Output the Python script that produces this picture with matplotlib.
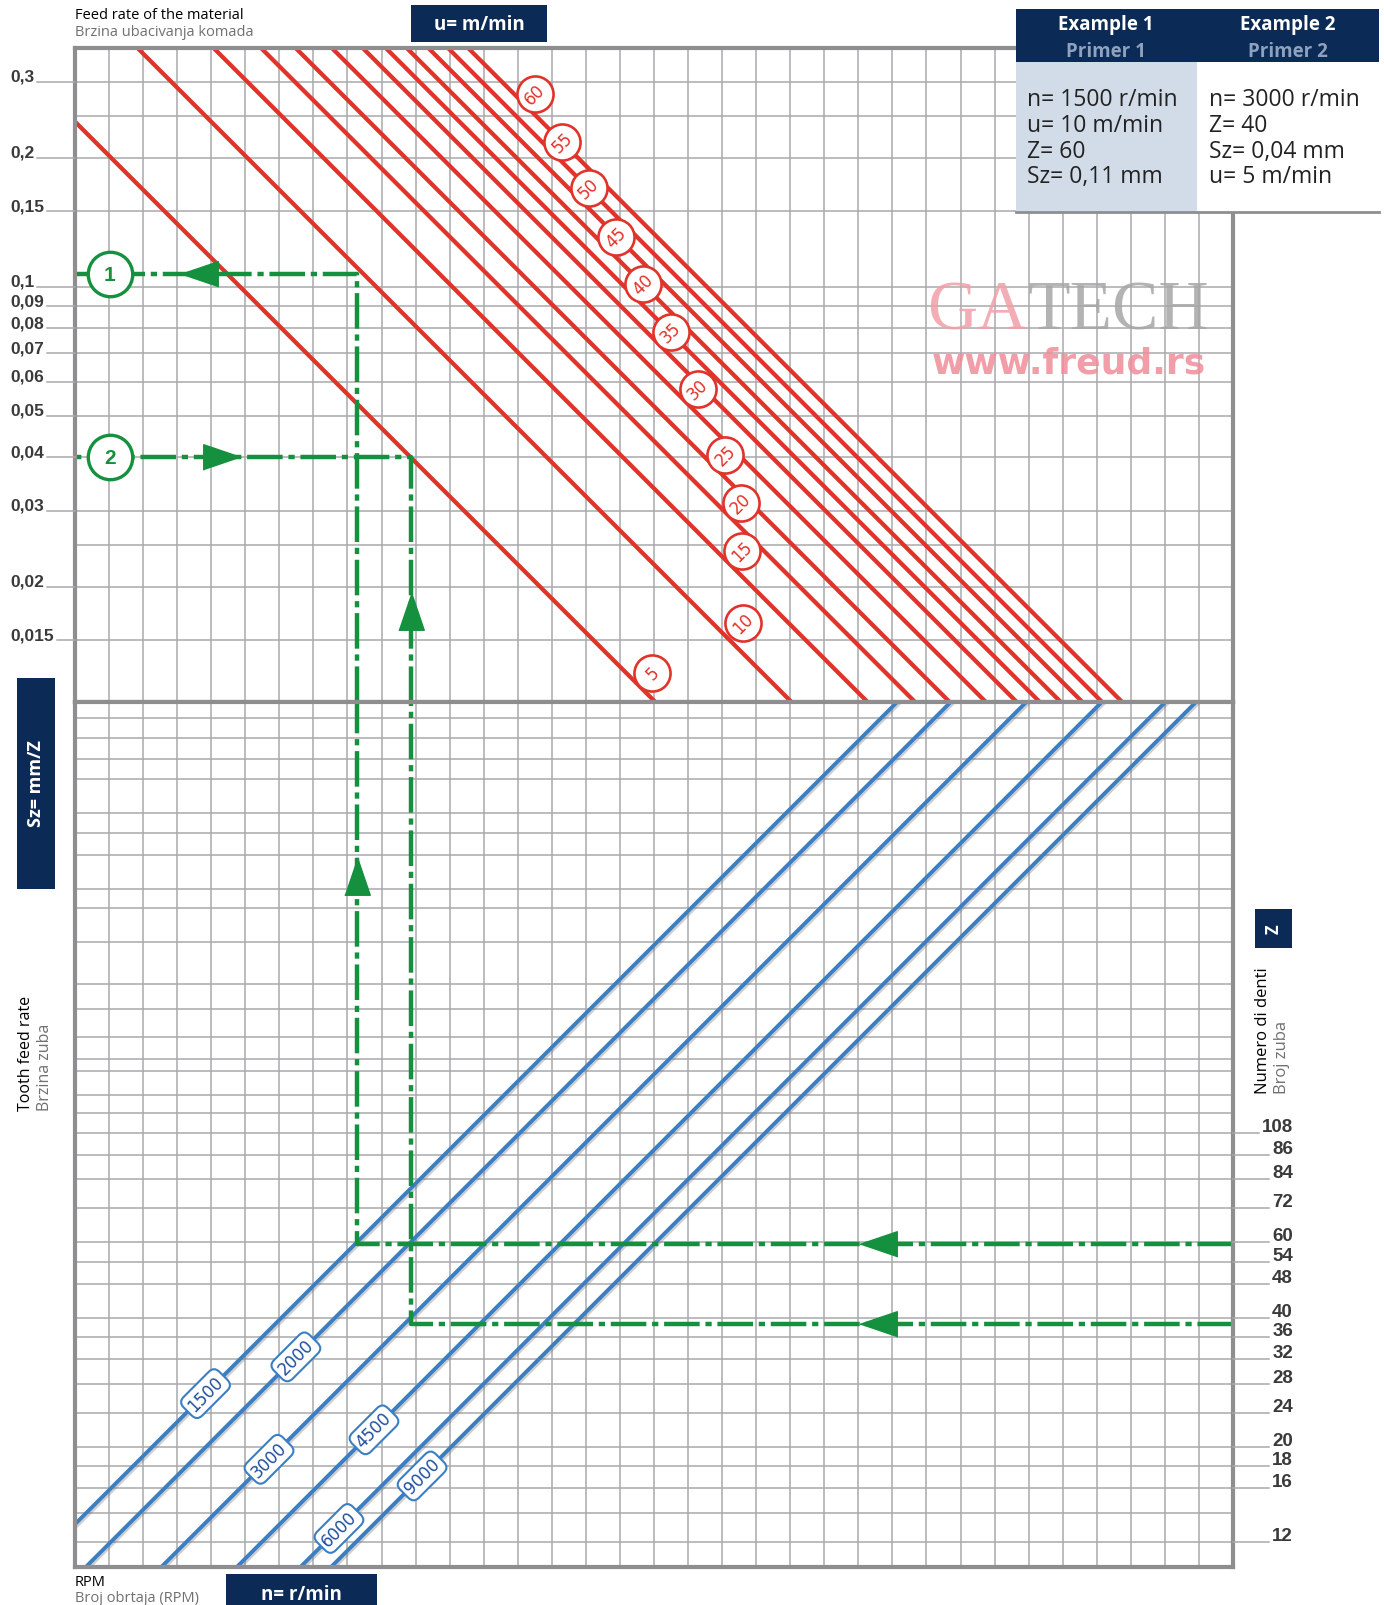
import numpy as np
import matplotlib
matplotlib.use("Agg")
import matplotlib.pyplot as plt
import matplotlib.patheffects as pe
from matplotlib import transforms
from matplotlib.patches import Rectangle
from matplotlib.lines import Line2D

W, H = 1384, 1606
NAVY = '#0b2a55'
RED = '#e2332a'
BLUE = '#3b7ec2'
GREEN = '#14903e'
GRID = '#aaaaad'
FRAME = '#8e8e91'

# tooth feed Sz (mm/Z), upper panel
sz_ticks = [0.3, 0.2, 0.15, 0.1, 0.09, 0.08, 0.07, 0.06, 0.05, 0.04, 0.03, 0.02, 0.015]
sz_tick_labels = ['0,3', '0,2', '0,15', '0,1', '0,09', '0,08', '0,07', '0,06',
                  '0,05', '0,04', '0,03', '0,02', '0,015']
sz_grid = [0.3, 0.25, 0.2, 0.15, 0.1, 0.09, 0.08, 0.07, 0.06, 0.05, 0.04, 0.03, 0.025, 0.02, 0.015]

# number of teeth Z, lower panel
z_ticks = [108, 96, 84, 72, 60, 54, 48, 40, 36, 32, 28, 24, 20, 18, 16, 12]
z_tick_labels = ['108', '86', '84', '72', '60', '54', '48', '40', '36', '32',
                 '28', '24', '20', '18', '16', '12']
z_grid = [1000, 900, 800, 720, 600, 540, 480, 400, 360, 300, 240, 210, 180, 160, 150, 132, 120,
          108, 96, 84, 72, 60, 54, 48, 40, 36, 32, 28, 24, 20, 18, 16, 14, 12]

# feed rate u (m/min): label, where the line sits on the chart
feed_rates = [5, 10, 15, 20, 25, 30, 35, 40, 45, 50, 55, 60]
feed_line_pos = [4.8, 9.97, 15.0, 19.35, 23.3, 28.3, 33.4, 37.8, 42.3, 47.5, 52.8, 58.8]
# where the round tags sit (n*Z, Sz)
feed_label_x = [439400, 713000, 709200, 704900, 649600, 559700, 485300,
                418200, 360600, 312400, 270900, 233500]
feed_label_sz = [0.01257, 0.01644, 0.0242, 0.0313, 0.0405, 0.0578, 0.0784,
                 0.1016, 0.1308, 0.1694, 0.217, 0.2813]

# spindle speed n (r/min): label, where the line sits, Z where the tag sits
rpm = [1500, 2000, 3000, 4500, 6000, 9000]
rpm_line_pos = [1500, 2000, 3000, 4500, 6330, 7460]
rpm_label_z = [26.6, 32.4, 18.7, 21.9, 12.9, 17.1]

# worked examples (as drawn)
ex_names = ['1', '2']
ex_n = [1500, 3000]
ex_z = [60, 40]
ex_z_drawn = [59.5, 38.6]
ex_sz_drawn = [0.107, 0.04]
ex_arrow_z_x = [1.474e6, 1.474e6]     # arrow on the Z line (points left)
ex_arrow_up = [('bot', 428), ('top', 0.0175)]
ex_arrow_sz_x = [38540, 43560]        # arrow on the Sz line
ex_arrow_sz_dir = ['left', 'right']

# scale limits (x = n*Z, log)
X_LO, X_HI = 19800, 9.91e6
SZ_LO, SZ_HI = 0.01076, 0.360
Z_LO, Z_HI = 10.49, 1089


def fx(px):
    return px / W


def fy(py):
    return 1 - py / H


fig = plt.figure(figsize=(W / 100, H / 100), dpi=100)
ax_top = fig.add_axes([fx(75), fy(703), fx(1233) - fx(75), fy(49) - fy(703)])
ax_bot = fig.add_axes([fx(75), fy(1568), fx(1233) - fx(75), fy(703) - fy(1568)])

for ax in (ax_top, ax_bot):
    ax.set_xscale('log')
    ax.set_yscale('log')
    ax.set_xlim(X_LO, X_HI)
    ax.set_xticks([])
    ax.set_xticks([], minor=True)
    ax.set_yticks([])
    ax.set_yticks([], minor=True)
    for s in ax.spines.values():
        s.set_color(FRAME)
        s.set_linewidth(3)
        s.set_zorder(6)
    for v in np.geomspace(X_LO, X_HI, 35)[1:-1]:
        ax.axvline(v, color=GRID, lw=1.1, zorder=1)
ax_top.set_ylim(SZ_LO, SZ_HI)
ax_bot.set_ylim(Z_LO, Z_HI)
for v in sz_grid:
    ax_top.axhline(v, color=GRID, lw=1.1, zorder=1)
for v in z_grid:
    ax_bot.axhline(v, color=GRID, lw=1.1, zorder=1)

shadow = [pe.SimpleLineShadow(offset=(1.2, -1.2), shadow_color='#777777', alpha=0.35), pe.Normal()]

# feed-rate lines: Sz = 1000 u / (n Z)
nz = np.geomspace(X_LO, X_HI, 200)
for u in feed_line_pos:
    ax_top.plot(nz, 1000 * u / nz, color=RED, lw=3.0, zorder=3, path_effects=shadow)

# speed lines: x = n Z
zz = np.geomspace(Z_LO, Z_HI, 200)
for n in rpm_line_pos:
    ax_bot.plot(n * zz, zz, color=BLUE, lw=2.8, zorder=3, path_effects=shadow)

# feed-rate tags
for u, x, s in zip(feed_rates, feed_label_x, feed_label_sz):
    ax_top.plot(x, s, marker='o', ms=26, mfc='white', mec=RED, mew=1.9, zorder=8, clip_on=False)
    ax_top.text(x, s, str(u), color=RED, fontsize=12, rotation=45, ha='center', va='center',
                rotation_mode='anchor', zorder=9, family='DejaVu Sans')

# speed tags
for n, pos, z in zip(rpm, rpm_line_pos, rpm_label_z):
    ax_bot.text(pos * z, z, str(n), color='#1f4f9c', fontsize=12, rotation=45,
                ha='center', va='center', rotation_mode='anchor', zorder=9,
                bbox=dict(boxstyle='round,pad=0.25,rounding_size=0.45', fc='white', ec=BLUE, lw=1.5))

# worked examples
gstyle = dict(color=GREEN, lw=3.2, linestyle=(0, (8, 1.3, 1.4, 1.3)), zorder=5)
arrow_left = [(-0.5, 0), (0.5, 0.34), (0.5, -0.34)]
arrow_right = [(0.5, 0), (-0.5, 0.34), (-0.5, -0.34)]
arrow_up = [(0, 0.5), (0.34, -0.5), (-0.34, -0.5)]
mark_tr = transforms.blended_transform_factory(ax_top.transAxes, ax_top.transData)
for i in range(2):
    x = ex_n[i] * ex_z[i]
    zi, si = ex_z_drawn[i], ex_sz_drawn[i]
    ax_bot.plot([X_HI, x, x], [zi, zi, Z_HI], **gstyle)
    ax_top.plot([x, x, X_LO], [SZ_LO, si, si], **gstyle)
    ax_bot.plot(ex_arrow_z_x[i], zi, marker=arrow_left, ms=27, color=GREEN, ls='none', zorder=7)
    which, val = ex_arrow_up[i]
    if which == 'bot':
        ax_bot.plot(x, val, marker=arrow_up, ms=27, color=GREEN, ls='none', zorder=7)
    else:
        ax_top.plot(x, val, marker=arrow_up, ms=27, color=GREEN, ls='none', zorder=7)
    mk = arrow_left if ex_arrow_sz_dir[i] == 'left' else arrow_right
    ax_top.plot(ex_arrow_sz_x[i], si, marker=mk, ms=27, color=GREEN, ls='none', zorder=7)
    ax_top.plot(0.0302, si, marker='o', ms=32, mfc='white', mec=GREEN, mew=2.4,
                transform=mark_tr, zorder=8, clip_on=False)
    ax_top.text(0.0302, si, ex_names[i], color=GREEN, fontsize=15, fontweight='bold',
                ha='center', va='center', transform=mark_tr, zorder=9, family='Liberation Sans')

# watermark
wm1 = fig.text(fx(927), fy(330), 'GA', color='#f2a0a8', alpha=0.85, fontsize=50,
               family='Liberation Serif', va='baseline', zorder=4)
fig.text(fx(932), fy(364), 'www.freud.rs', color='#ef8d99', alpha=0.85, fontsize=26,
         family='DejaVu Sans', fontweight='bold', va='center', zorder=4)

# axis tick labels
sz_tr = transforms.offset_copy(transforms.blended_transform_factory(fig.transFigure, ax_top.transData),
                               fig=fig, x=0, y=1, units='dots')
sz_texts = [fig.text(fx(10), v, lab, transform=sz_tr, fontsize=12.5, fontweight='bold', color='#3a3a3a',
                     family='Liberation Sans', va='baseline', ha='left')
            for v, lab in zip(sz_ticks, sz_tick_labels)]
z_tr = transforms.offset_copy(transforms.blended_transform_factory(fig.transFigure, ax_bot.transData),
                              fig=fig, x=0, y=2, units='dots')
z_texts = [fig.text(fx(1293), v, lab, transform=z_tr, fontsize=13.5, fontweight='bold', color='#3a3a3a',
                    family='Liberation Sans', va='baseline', ha='right')
           for v, lab in zip(z_ticks, z_tick_labels)]

# titles and unit boxes
fig.text(fx(75), fy(15.4), 'Feed rate of the material', fontsize=10.5, family='Open Sans', va='center')
fig.text(fx(75), fy(32.8), 'Brzina ubacivanja komada', fontsize=10.5, family='Open Sans',
         color='#707070', va='center')
fig.add_artist(Rectangle((fx(411), fy(43)), fx(547) - fx(411), fy(6) - fy(43), fc=NAVY, ec='none',
                         transform=fig.transFigure, zorder=10))
fig.text(fx(479), fy(24.5), 'u= m/min', color='white', fontsize=13.5, fontweight='bold',
         family='Open Sans', ha='center', va='center', zorder=11)

fig.add_artist(Rectangle((fx(17), fy(890)), fx(55) - fx(17), fy(679) - fy(890), fc=NAVY, ec='none',
                         transform=fig.transFigure, zorder=10))
fig.text(fx(36), fy(784), 'Sz= mm/Z', color='white', fontsize=13, fontweight='bold', rotation=90,
         family='Open Sans', ha='center', va='center', zorder=11)
fig.text(fx(25.6), fy(1111), 'Tooth feed rate', fontsize=11.5, family='Open Sans', rotation=90,
         ha='center', va='bottom')
fig.text(fx(45), fy(1111), 'Brzina zuba', fontsize=11.5, family='Open Sans', rotation=90,
         color='#707070', ha='center', va='bottom')

fig.add_artist(Rectangle((fx(1255), fy(949)), fx(1292) - fx(1255), fy(910) - fy(949), fc=NAVY,
                         ec='none', transform=fig.transFigure, zorder=10))
fig.text(fx(1273.5), fy(929.5), 'Z', color='white', fontsize=12, fontweight='bold', rotation=90,
         family='Open Sans', ha='center', va='center', zorder=11)
fig.text(fx(1263), fy(1094), 'Numero di denti', fontsize=12, family='Open Sans', rotation=90,
         ha='center', va='bottom')
fig.text(fx(1282), fy(1094), 'Broj zuba', fontsize=12, family='Open Sans', rotation=90,
         color='#707070', ha='center', va='bottom')

fig.text(fx(75), fy(1583), 'RPM', fontsize=10.5, family='Open Sans', va='center')
fig.text(fx(75), fy(1599), 'Broj obrtaja (RPM)', fontsize=10.5, family='Open Sans',
         color='#707070', va='center')
fig.add_artist(Rectangle((fx(226), fy(1610)), fx(377) - fx(226), fy(1575) - fy(1610), fc=NAVY,
                         ec='none', transform=fig.transFigure, zorder=10))
fig.text(fx(301.5), fy(1595), 'n= r/min', color='white', fontsize=13.5, fontweight='bold',
         family='Open Sans', ha='center', va='center', zorder=11)

# example table
fig.add_artist(Rectangle((fx(1016), fy(63)), fx(1379) - fx(1016), fy(10) - fy(63), fc=NAVY,
                         ec='none', transform=fig.transFigure, zorder=10))
fig.add_artist(Rectangle((fx(1016), fy(213)), fx(1197) - fx(1016), fy(63) - fy(213), fc='#d2dce8',
                         ec='none', transform=fig.transFigure, zorder=10))
fig.add_artist(Rectangle((fx(1197), fy(213)), fx(1379) - fx(1197), fy(63) - fy(213), fc='white',
                         ec='none', transform=fig.transFigure, zorder=10))
fig.add_artist(Line2D([fx(1016), fx(1379)], [fy(213), fy(213)], color=FRAME, lw=2,
                      transform=fig.transFigure, zorder=11))
table_cols = [1106, 1288]
table_heads = ['Example 1', 'Example 2']
table_subs = ['Primer 1', 'Primer 2']
table_rows = [['n= 1500 r/min', 'u= 10 m/min', 'Z= 60', 'Sz= 0,11 mm'],
              ['n= 3000 r/min', 'Z= 40', 'Sz= 0,04 mm', 'u= 5 m/min']]
table_left = [1027, 1209]
for i in range(2):
    fig.text(fx(table_cols[i]), fy(24.6), table_heads[i], color='white', fontsize=13.5,
             fontweight='bold', family='Open Sans', ha='center', va='center', zorder=12)
    fig.text(fx(table_cols[i]), fy(52), table_subs[i], color='#8ea2bf', fontsize=13.5,
             fontweight='bold', family='Open Sans', ha='center', va='center', zorder=12)
    for j, line in enumerate(table_rows[i]):
        fig.text(fx(table_left[i]), fy(100.4 + 25.6 * j), line, fontsize=16.5, family='Open Sans',
                 color='#222222', va='center', zorder=12)

# place pieces that depend on text extents
fig.canvas.draw()
r = fig.canvas.get_renderer()
bb = wm1.get_window_extent(r)
fig.text(bb.x1 / W, fy(330), 'TECH', color='#a6a6a6', alpha=0.85, fontsize=50,
         family='Liberation Serif', va='baseline', zorder=4)
sz_line_tr = transforms.blended_transform_factory(fig.transFigure, ax_top.transData)
for t, v in zip(sz_texts, sz_ticks):
    b = t.get_window_extent(r)
    fig.add_artist(Line2D([(b.x1 + 3) / W, fx(75)], [v, v], color=GRID, lw=1.1, transform=sz_line_tr))
z_line_tr = transforms.blended_transform_factory(fig.transFigure, ax_bot.transData)
for t, v in zip(z_texts, z_ticks):
    b = t.get_window_extent(r)
    fig.add_artist(Line2D([fx(1233), (b.x0 - 3) / W], [v, v], color=GRID, lw=1.1, transform=z_line_tr))

fig.savefig('out.png', dpi=100, facecolor='white')
